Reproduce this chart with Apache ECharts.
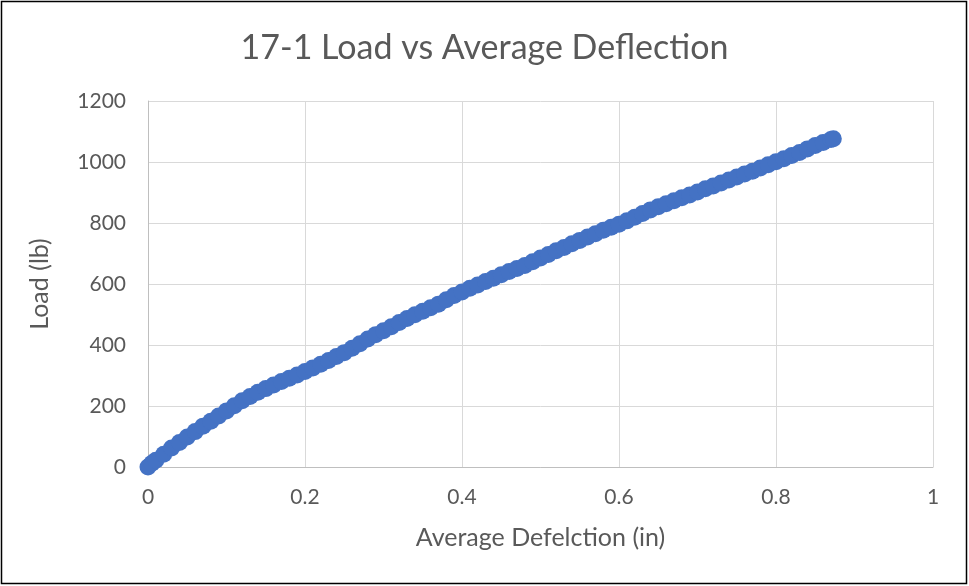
<!DOCTYPE html>
<html>
<head>
<meta charset="utf-8">
<script src="https://cdn.jsdelivr.net/npm/echarts@6/dist/echarts.min.js"></script>
<style>
html,body{margin:0;padding:0;background:#fff;}
#c{width:969px;height:586px;}
</style>
</head>
<body>
<div id="c"></div>
<script>
var deflection = [0,0.005,0.01,0.02,0.03,0.04,0.05,0.06,0.07,0.08,0.09,0.10,0.11,0.12,0.13,0.14,0.15,0.16,0.17,0.18,0.19,0.20,0.21,0.22,0.23,0.24,0.25,0.26,0.27,0.28,0.29,0.30,0.31,0.32,0.33,0.34,0.35,0.36,0.37,0.38,0.39,0.40,0.41,0.42,0.43,0.44,0.45,0.46,0.47,0.48,0.49,0.50,0.51,0.52,0.53,0.54,0.55,0.56,0.57,0.58,0.59,0.60,0.61,0.62,0.63,0.64,0.65,0.66,0.67,0.68,0.69,0.70,0.71,0.72,0.73,0.74,0.75,0.76,0.77,0.78,0.79,0.80,0.81,0.82,0.83,0.84,0.85,0.86,0.87,0.873];
var load = [0,12,22,42,62,80,98,116,134,150,167,184,201,217,231,245,257,269,280,291,302,313,325,337,349,362,375,389,404,420,434,447,460,474,487,499,511,522,534,548,562,574,586,597,608,619,630,641,651,661,673,685,697,709,720,732,743,754,765,776,786,796,807,819,831,843,853,863,873,883,892,902,912,921,931,941,951,961,970,980,991,1001,1011,1021,1031,1043,1054,1064,1074,1076];
var titleText = '17-1 Load vs Average Deflection';
var xName = 'Average Defelction (in)';
var yName = 'Load (lb)';

var pts = deflection.map(function(x,i){return [x, load[i]];});
var font = 'Lato';
var chart = echarts.init(document.getElementById('c'), null, {renderer:'canvas'});
chart.setOption({
  animation:false,
  backgroundColor:'#fff',
  title:{text:titleText,left:'center',top:26,textStyle:{fontFamily:font,fontSize:34,fontWeight:'normal',color:'#595959'}},
  grid:{left:148,right:36,top:101,bottom:119,containLabel:false},
  xAxis:{type:'value',min:0,max:1,interval:0.2,
    name:xName,nameLocation:'middle',nameGap:58,
    nameTextStyle:{fontFamily:font,fontSize:25,color:'#595959'},
    axisLine:{show:true,lineStyle:{color:'#bfbfbf',width:1}},
    axisTick:{show:false},
    axisLabel:{fontFamily:font,fontSize:21,color:'#595959',margin:20},
    splitLine:{show:true,lineStyle:{color:'#d9d9d9',width:1}}},
  yAxis:{type:'value',min:0,max:1200,interval:200,
    name:yName,nameLocation:'middle',nameGap:96,
    nameTextStyle:{fontFamily:font,fontSize:25,color:'#595959'},
    axisLine:{show:true,lineStyle:{color:'#bfbfbf',width:1}},
    axisTick:{show:false},
    axisLabel:{fontFamily:font,fontSize:21,color:'#595959',margin:22,formatter:function(v){return String(v);}},
    splitLine:{show:true,lineStyle:{color:'#d9d9d9',width:1}}},
  graphic:[{type:'rect',shape:{x:1.5,y:1.5,width:965,height:582},style:{fill:null,stroke:'#000',lineWidth:1.5},silent:true}],
  series:[{type:'scatter',data:pts,symbol:'circle',symbolSize:17,itemStyle:{color:'#4472C4',opacity:1}}]
});
</script>
</body>
</html>
